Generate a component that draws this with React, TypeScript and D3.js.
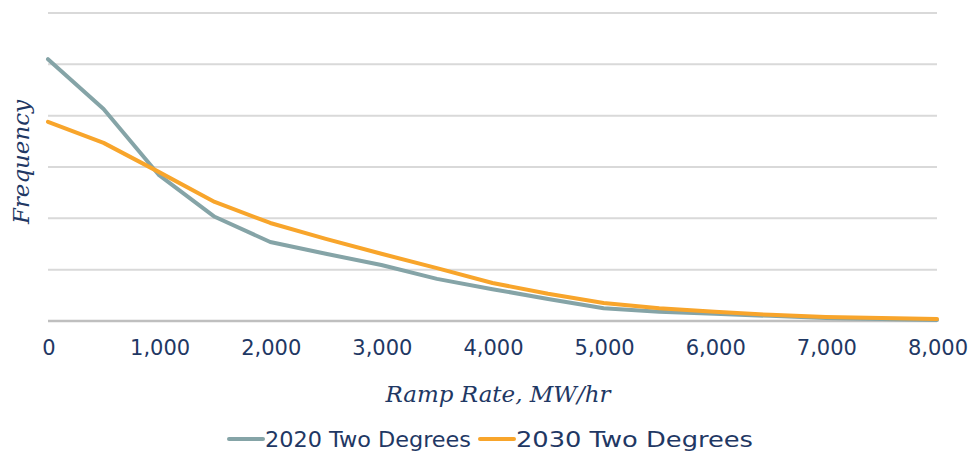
import React from "react";
import * as d3 from "d3";

const rampRates = [0, 500, 1000, 1500, 2000, 2500, 3000, 3500, 4000, 4500, 5000, 5500, 6000, 6500, 7000, 7500, 8000];
const freq2020 = [5.10, 4.13, 2.84, 2.03, 1.54, 1.31, 1.09, 0.82, 0.62, 0.43, 0.25, 0.18, 0.14, 0.10, 0.06, 0.04, 0.02];
const freq2030 = [3.88, 3.47, 2.90, 2.32, 1.91, 1.60, 1.31, 1.03, 0.74, 0.53, 0.35, 0.25, 0.18, 0.12, 0.08, 0.06, 0.04];
const xTicks = [0, 1000, 2000, 3000, 4000, 5000, 6000, 7000, 8000];
const yGrid = [0, 1, 2, 3, 4, 5, 6];
const seriesNames = ["2020 Two Degrees", "2030 Two Degrees"];

const W = 973, H = 451;
const navy = "#1f3864";
const colors = ["#85a4a7", "#f8a52b"];
const sans = "'DejaVu Sans', 'Noto Sans', sans-serif";
const serif = "'DejaVu Serif', 'Liberation Serif', serif";

export default function App() {
  const x = d3.scaleLinear().domain([0, 8000]).range([48, 937]);
  const y = d3.scaleLinear().domain([0, 6]).range([321, 13]);
  const line = d3.line<number>().x((_, i) => x(rampRates[i])).y(d => y(d));
  const series = [freq2020, freq2030];
  const fmt = d3.format(",");
  return (
    <svg width={W} height={H} style={{ position: "absolute", left: 0, top: 0, background: "#fff" }}>
      {yGrid.map(g => (
        <line key={g} x1={48} x2={937} y1={y(g)} y2={y(g)} stroke={g === 0 ? "#bfbfbf" : "#d9d9d9"} strokeWidth={g === 0 ? 2.5 : 2} />
      ))}
      {series.map((s, i) => (
        <path key={i} d={line(s) || ""} fill="none" stroke={colors[i]} strokeWidth={4} strokeLinejoin="round" strokeLinecap="round" />
      ))}
      {xTicks.map(t => (
        <text key={t} x={x(t) + 1} y={355} textAnchor="middle" fontFamily={sans} fontSize={21} fill={navy}>
          {fmt(t)}
        </text>
      ))}
      <text x={498} y={402} textAnchor="middle" fontFamily={serif} fontStyle="italic" fontSize={22} fill={navy} textLength={225} lengthAdjust="spacingAndGlyphs">
        Ramp Rate, MW/hr
      </text>
      <text transform={`translate(29,162) rotate(-90)`} textAnchor="middle" fontFamily={serif} fontStyle="italic" fontSize={22} fill={navy} textLength={124} lengthAdjust="spacingAndGlyphs">
        Frequency
      </text>
      {seriesNames.map((n, i) => {
        const lx = i === 0 ? 229 : 480;
        return (
          <g key={n}>
            <line x1={lx} x2={lx + 34} y1={439} y2={439} stroke={colors[i]} strokeWidth={4} strokeLinecap="round" />
            <text x={lx + 36} y={447} fontFamily={sans} fontSize={21} fill={navy} textLength={i === 0 ? 206 : 237} lengthAdjust="spacingAndGlyphs">
              {n}
            </text>
          </g>
        );
      })}
    </svg>
  );
}
